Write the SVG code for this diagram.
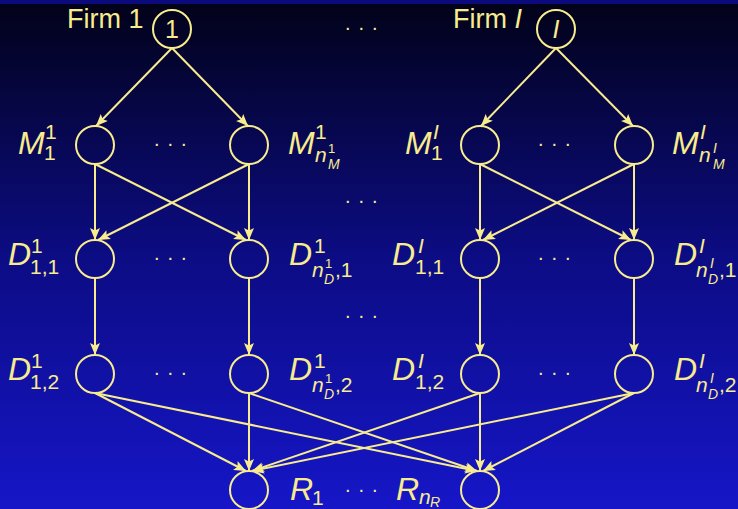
<svg xmlns="http://www.w3.org/2000/svg" width="738" height="509" viewBox="0 0 738 509">
<defs>
<linearGradient id="bg" x1="0" y1="4" x2="0" y2="509" gradientUnits="userSpaceOnUse">
<stop offset="0" stop-color="#02021a"/>
<stop offset="0.5" stop-color="#0c0c84"/>
<stop offset="1" stop-color="#1616c8"/>
</linearGradient>
<marker id="ah" markerUnits="userSpaceOnUse" markerWidth="13" markerHeight="11" refX="12" refY="5" orient="auto" viewBox="0 0 13 11">
<path d="M0,0 L12,5 L0,10 L2.5,5 z" fill="#f8ec8e"/>
</marker>
</defs>
<style>
.n{fill:none;stroke:#f8ec8e;stroke-width:2}
.e{stroke:#f8ec8e;stroke-width:2;fill:none;marker-end:url(#ah)}
text{fill:#f8ec8e;font-family:"Liberation Sans",Arial,sans-serif}
.b{font-size:32px;font-style:italic}
.s{font-size:21px}
.si{font-size:21px;font-style:italic}
.ss{font-size:13px}
.ssi{font-size:14px;font-style:italic}
.t{font-size:27px}
.dots{font-size:20px;letter-spacing:7.9px}
</style>
<rect x="0" y="0" width="738" height="509" fill="url(#bg)"/>
<rect x="0" y="0" width="738" height="4" fill="#0b0b7e"/>

<g id="connectors">
<line class="e" x1="172" y1="48" x2="96" y2="126"/>
<line class="e" x1="172" y1="48" x2="248" y2="126"/>
<line class="e" x1="556" y1="48" x2="481" y2="126"/>
<line class="e" x1="556" y1="48" x2="633" y2="126"/>
<line class="e" x1="95" y1="164" x2="95" y2="240"/>
<line class="e" x1="95" y1="164" x2="246" y2="240"/>
<line class="e" x1="249" y1="164" x2="98" y2="240"/>
<line class="e" x1="249" y1="164" x2="249" y2="240"/>
<line class="e" x1="480" y1="164" x2="480" y2="240"/>
<line class="e" x1="480" y1="164" x2="631" y2="240"/>
<line class="e" x1="634" y1="164" x2="483" y2="240"/>
<line class="e" x1="634" y1="164" x2="634" y2="240"/>
<line class="e" x1="95" y1="278" x2="95" y2="355"/>
<line class="e" x1="249" y1="278" x2="249" y2="355"/>
<line class="e" x1="480" y1="278" x2="480" y2="355"/>
<line class="e" x1="634" y1="278" x2="634" y2="355"/>
<line class="e" x1="95" y1="393" x2="246" y2="471"/>
<line class="e" x1="95" y1="393" x2="477" y2="471"/>
<line class="e" x1="249" y1="393" x2="249" y2="471"/>
<line class="e" x1="249" y1="393" x2="477" y2="471"/>
<line class="e" x1="480" y1="393" x2="252" y2="471"/>
<line class="e" x1="480" y1="393" x2="480" y2="471"/>
<line class="e" x1="634" y1="393" x2="252" y2="471"/>
<line class="e" x1="634" y1="393" x2="483" y2="471"/>
</g>

<g id="firm1">
<circle class="n" cx="172" cy="29" r="19"/>
<text x="172" y="38" text-anchor="middle" font-size="25px">1</text>
<text class="t" x="67" y="28">Firm 1</text>
</g>
<g id="firmI">
<circle class="n" cx="556" cy="29" r="19"/>
<text x="556" y="38" text-anchor="middle" font-size="25px" font-style="italic">I</text>
<text class="t" x="453" y="28">Firm <tspan font-style="italic">I</tspan></text>
</g>

<g id="M1_1">
<circle class="n" cx="95" cy="145" r="19"/>
<text><tspan class="b" x="18" y="154">M</tspan><tspan class="s" x="45" y="139">1</tspan><tspan class="s" x="44" y="160">1</tspan></text>
</g>
<g id="M1_n">
<circle class="n" cx="249" cy="145" r="19"/>
<text><tspan class="b" x="288" y="154">M</tspan><tspan class="s" x="315" y="139">1</tspan><tspan class="si" x="315" y="162">n</tspan><tspan class="ss" x="328" y="153">1</tspan><tspan class="ssi" x="328" y="169">M</tspan></text>
</g>
<g id="MI_1">
<circle class="n" cx="480" cy="145" r="19"/>
<text><tspan class="b" x="405" y="154">M</tspan><tspan class="si" x="433" y="139">I</tspan><tspan class="s" x="431" y="160">1</tspan></text>
</g>
<g id="MI_n">
<circle class="n" cx="634" cy="145" r="19"/>
<text><tspan class="b" x="672" y="154">M</tspan><tspan class="si" x="700" y="139">I</tspan><tspan class="si" x="699" y="162">n</tspan><tspan class="ssi" x="713" y="153">I</tspan><tspan class="ssi" x="713" y="169">M</tspan></text>
</g>

<g id="D1_11">
<circle class="n" cx="95" cy="259" r="19"/>
<text><tspan class="b" x="8" y="265">D</tspan><tspan class="s" x="31" y="253">1</tspan><tspan class="s" x="30" y="274">1,1</tspan></text>
</g>
<g id="D1_n1">
<circle class="n" cx="249" cy="259" r="19"/>
<text><tspan class="b" x="289" y="265">D</tspan><tspan class="s" x="314" y="253">1</tspan><tspan class="si" x="312" y="277">n</tspan><tspan class="ss" x="325" y="268">1</tspan><tspan class="ssi" x="324" y="284">D</tspan><tspan class="s" x="335" y="277">,1</tspan></text>
</g>
<g id="DI_11">
<circle class="n" cx="480" cy="259" r="19"/>
<text><tspan class="b" x="392" y="265">D</tspan><tspan class="si" x="418" y="253">I</tspan><tspan class="s" x="415" y="274">1,1</tspan></text>
</g>
<g id="DI_n1">
<circle class="n" cx="634" cy="259" r="19"/>
<text><tspan class="b" x="674" y="265">D</tspan><tspan class="si" x="699" y="253">I</tspan><tspan class="si" x="696" y="277">n</tspan><tspan class="ssi" x="710" y="268">I</tspan><tspan class="ssi" x="708" y="284">D</tspan><tspan class="s" x="719" y="277">,1</tspan></text>
</g>

<g id="D1_12">
<circle class="n" cx="95" cy="374" r="19"/>
<text><tspan class="b" x="8" y="380">D</tspan><tspan class="s" x="31" y="368">1</tspan><tspan class="s" x="30" y="389">1,2</tspan></text>
</g>
<g id="D1_n2">
<circle class="n" cx="249" cy="374" r="19"/>
<text><tspan class="b" x="289" y="380">D</tspan><tspan class="s" x="314" y="368">1</tspan><tspan class="si" x="312" y="392">n</tspan><tspan class="ss" x="325" y="383">1</tspan><tspan class="ssi" x="324" y="399">D</tspan><tspan class="s" x="335" y="392">,2</tspan></text>
</g>
<g id="DI_12">
<circle class="n" cx="480" cy="374" r="19"/>
<text><tspan class="b" x="392" y="380">D</tspan><tspan class="si" x="418" y="368">I</tspan><tspan class="s" x="415" y="389">1,2</tspan></text>
</g>
<g id="DI_n2">
<circle class="n" cx="634" cy="374" r="19"/>
<text><tspan class="b" x="674" y="380">D</tspan><tspan class="si" x="699" y="368">I</tspan><tspan class="si" x="696" y="392">n</tspan><tspan class="ssi" x="710" y="383">I</tspan><tspan class="ssi" x="708" y="399">D</tspan><tspan class="s" x="719" y="392">,2</tspan></text>
</g>

<g id="R1">
<circle class="n" cx="249" cy="490" r="19"/>
<text><tspan class="b" x="290" y="500">R</tspan><tspan class="s" x="312" y="505">1</tspan></text>
</g>
<g id="Rn">
<circle class="n" cx="480" cy="490" r="19"/>
<text><tspan class="b" x="396" y="500">R</tspan><tspan class="si" x="419" y="504">n</tspan><tspan class="ssi" x="430" y="507">R</tspan></text>
</g>

<g id="dots">
<text class="dots" x="345" y="30">...</text>
<text class="dots" x="154" y="146">...</text>
<text class="dots" x="538" y="146">...</text>
<text class="dots" x="345" y="203">...</text>
<text class="dots" x="154" y="260">...</text>
<text class="dots" x="538" y="260">...</text>
<text class="dots" x="345" y="318">...</text>
<text class="dots" x="154" y="375">...</text>
<text class="dots" x="538" y="375">...</text>
<text class="dots" x="345" y="492">...</text>
</g>
</svg>
